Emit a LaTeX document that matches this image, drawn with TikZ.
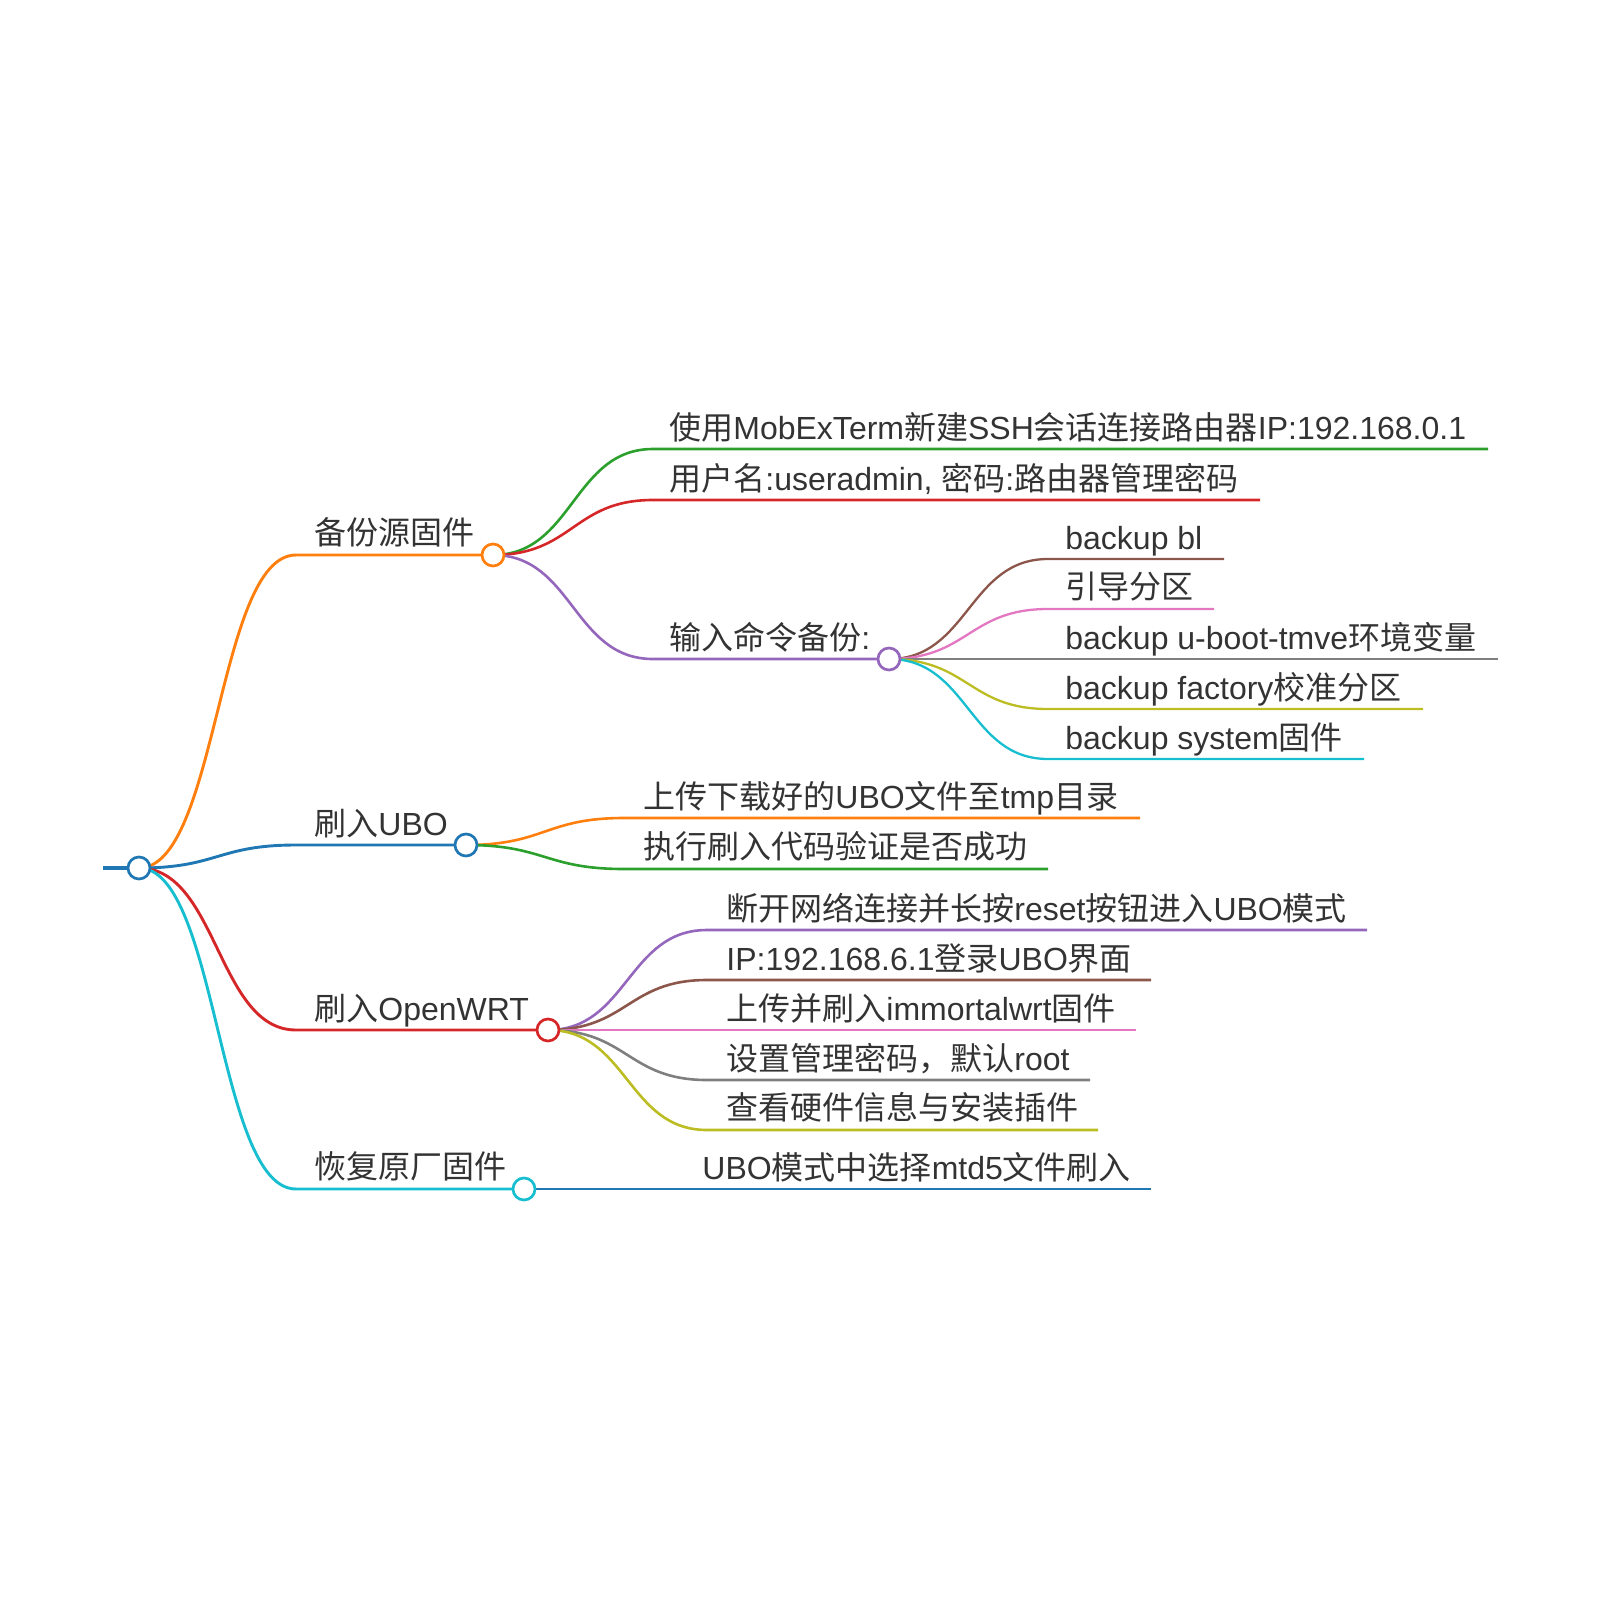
\documentclass[tikz,border=0pt]{standalone}
\usepackage{fontspec}
\setmainfont{Liberation Sans}
\newfontfamily\cjk{Noto Sans CJK SC}
\newcommand\zh[1]{{\cjk #1}}
\usetikzlibrary{calc}
\definecolor{cblue}{HTML}{1F77B4}
\definecolor{corange}{HTML}{FF7F0E}
\definecolor{cgreen}{HTML}{2CA02C}
\definecolor{cred}{HTML}{D62728}
\definecolor{cpurple}{HTML}{9467BD}
\definecolor{cbrown}{HTML}{8C564B}
\definecolor{cpink}{HTML}{E377C2}
\definecolor{cgray}{HTML}{7F7F7F}
\definecolor{colive}{HTML}{BCBD22}
\definecolor{ccyan}{HTML}{17BECF}
\definecolor{txt}{HTML}{333333}
\newcommand\mmlink[4][]{\draw[#1] let \p1=(#2), \p2=(#3) in (\p1) .. controls ({0.5*\x1+0.5*\x2},\y1) and ({0.5*\x1+0.5*\x2},\y2) .. (\p2) -- (#4);}
\begin{document}
\begin{tikzpicture}[x=0.5pt,y=-0.5pt,
  lab/.style={anchor=base west, inner sep=0pt, text=txt, font=\fontsize{16}{19}\selectfont},
  dotnode/.style={circle, draw=#1, fill=white, line width=1.35pt, minimum size=11pt, inner sep=0pt},
  lone/.style={line width=1.45pt},
  ltwo/.style={line width=1.3pt},
  lthree/.style={line width=1.15pt}]
\useasboundingbox (0,0) rectangle (1600,1600);
% coordinates
\coordinate (r) at (139,868);
\coordinate (r0) at (103,868);
\coordinate (As) at (296,555); \coordinate (Ae) at (493,555);
\coordinate (Bs) at (296,845); \coordinate (Be) at (466,845);
\coordinate (Cs) at (296,1030); \coordinate (Ce) at (548,1030);
\coordinate (Ds) at (296,1189); \coordinate (De) at (524,1189);
\coordinate (A1s) at (653,449); \coordinate (A1e) at (1488,449);
\coordinate (A2s) at (653,500); \coordinate (A2e) at (1260,500);
\coordinate (A3s) at (653,659); \coordinate (A3e) at (889,659);
\coordinate (P1s) at (1048,559); \coordinate (P1e) at (1224,559);
\coordinate (P2s) at (1048,609); \coordinate (P2e) at (1214,609);
\coordinate (P3s) at (1048,659); \coordinate (P3e) at (1498,659);
\coordinate (P4s) at (1048,709); \coordinate (P4e) at (1423,709);
\coordinate (P5s) at (1048,759); \coordinate (P5e) at (1364,759);
\coordinate (B1s) at (624,818); \coordinate (B1e) at (1140,818);
\coordinate (B2s) at (624,869); \coordinate (B2e) at (1048,869);
\coordinate (C1s) at (707,930); \coordinate (C1e) at (1367,930);
\coordinate (C2s) at (707,980); \coordinate (C2e) at (1151,980);
\coordinate (C3s) at (707,1030); \coordinate (C3e) at (1136,1030);
\coordinate (C4s) at (707,1080); \coordinate (C4e) at (1090,1080);
\coordinate (C5s) at (707,1130); \coordinate (C5e) at (1098,1130);
\coordinate (D1s) at (684,1189); \coordinate (D1e) at (1151,1189);
% links
\draw[cblue, line width=2pt] (r0) -- (r);
\mmlink[corange,lone]{r}{As}{Ae}
\mmlink[cblue,lone]{r}{Bs}{Be}
\mmlink[cred,lone]{r}{Cs}{Ce}
\mmlink[ccyan,lone]{r}{Ds}{De}
\mmlink[cgreen,ltwo]{Ae}{A1s}{A1e}
\mmlink[cred,ltwo]{Ae}{A2s}{A2e}
\mmlink[cpurple,ltwo]{Ae}{A3s}{A3e}
\mmlink[cbrown,lthree]{A3e}{P1s}{P1e}
\mmlink[cpink,lthree]{A3e}{P2s}{P2e}
\mmlink[cgray,lthree]{A3e}{P3s}{P3e}
\mmlink[colive,lthree]{A3e}{P4s}{P4e}
\mmlink[ccyan,lthree]{A3e}{P5s}{P5e}
\mmlink[corange,ltwo]{Be}{B1s}{B1e}
\mmlink[cgreen,ltwo]{Be}{B2s}{B2e}
\mmlink[cpurple,ltwo]{Ce}{C1s}{C1e}
\mmlink[cbrown,ltwo]{Ce}{C2s}{C2e}
\mmlink[cpink,ltwo]{Ce}{C3s}{C3e}
\mmlink[cgray,ltwo]{Ce}{C4s}{C4e}
\mmlink[colive,ltwo]{Ce}{C5s}{C5e}
\mmlink[cblue,ltwo]{De}{D1s}{D1e}
% circles
\node[dotnode=cblue] (rootdot) at (r) {};
\node[dotnode=corange] (Adot) at (Ae) {};
\node[dotnode=cblue] (Bdot) at (Be) {};
\node[dotnode=cred] (Cdot) at (Ce) {};
\node[dotnode=ccyan] (Ddot) at (De) {};
\node[dotnode=cpurple] (A3dot) at (A3e) {};
% labels
\node[lab] (At) at ($(As)+(18,-11)$) {\zh{备份源固件}};
\node[lab] (Bt) at ($(Bs)+(18,-10)$) {\zh{刷入}UBO};
\node[lab] (Ct) at ($(Cs)+(18,-10)$) {\zh{刷入}OpenWRT};
\node[lab] (Dt) at ($(Ds)+(18,-11)$) {\zh{恢复原厂固件}};
\node[lab] (A1t) at ($(A1s)+(16,-10)$) {\zh{使用}MobExTerm\zh{新建}SSH\zh{会话连接路由器}IP:192.168.0.1};
\node[lab] (A2t) at ($(A2s)+(16,-10)$) {\zh{用户名}:useradmin, \zh{密码}:\zh{路由器管理密码}};
\node[lab] (A3t) at ($(A3s)+(16,-10)$) {\zh{输入命令备份}:};
\node[lab] (P1t) at ($(P1s)+(17,-10)$) {backup bl};
\node[lab] (P2t) at ($(P2s)+(17,-11)$) {\zh{引导分区}};
\node[lab] (P3t) at ($(P3s)+(17,-10)$) {backup u-boot-tmve\zh{环境变量}};
\node[lab] (P4t) at ($(P4s)+(17,-10)$) {backup factory\zh{校准分区}};
\node[lab] (P5t) at ($(P5s)+(17,-10)$) {backup system\zh{固件}};
\node[lab] (B1t) at ($(B1s)+(19,-10)$) {\zh{上传下载好的}UBO\zh{文件至}tmp\zh{目录}};
\node[lab] (B2t) at ($(B2s)+(19,-11)$) {\zh{执行刷入代码验证是否成功}};
\node[lab] (C1t) at ($(C1s)+(19,-10)$) {\zh{断开网络连接并长按}reset\zh{按钮进入}UBO\zh{模式}};
\node[lab] (C2t) at ($(C2s)+(19,-10)$) {IP:192.168.6.1\zh{登录}UBO\zh{界面}};
\node[lab] (C3t) at ($(C3s)+(19,-10)$) {\zh{上传并刷入}immortalwrt\zh{固件}};
\node[lab] (C4t) at ($(C4s)+(19,-10)$) {\zh{设置管理密码，默认}root};
\node[lab] (C5t) at ($(C5s)+(19,-11)$) {\zh{查看硬件信息与安装插件}};
\node[lab] (D1t) at ($(D1s)+(18,-10)$) {UBO\zh{模式中选择}mtd5\zh{文件刷入}};
\end{tikzpicture}
\end{document}
